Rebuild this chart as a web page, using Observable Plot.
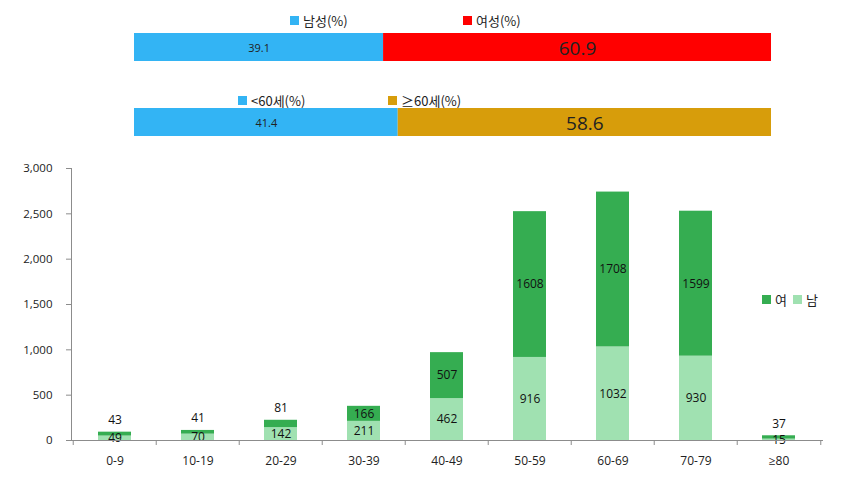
<!DOCTYPE html>
<html>
<head>
<meta charset="utf-8">
<script src="https://cdn.jsdelivr.net/npm/d3@7"></script>
<script src="https://cdn.jsdelivr.net/npm/@observablehq/plot@0.6"></script>
<style>
  html, body { margin: 0; padding: 0; background: #fff; }
  #root { position: relative; width: 853px; height: 493px; overflow: hidden; font-family: "Noto Sans CJK KR", "Open Sans", sans-serif; }
  .abs { position: absolute; }
  .leg { position: absolute; display: flex; align-items: center; font-size: 13px; color: #222; white-space: nowrap; }
  .sw { display: inline-block; width: 9px; height: 9px; margin-right: 4px; }
  .ge { font-family: "Open Sans", sans-serif; }
</style>
</head>
<body>
<div id="root">
  <div class="leg" style="left:290px; top:11px"><span class="sw" id="sw0"></span><span id="lg0"></span></div>
  <div class="leg" style="left:463px; top:11px"><span class="sw" id="sw1"></span><span id="lg1"></span></div>
  <div class="abs" id="bar1" style="left:0; top:33px"></div>
  <div class="leg" style="left:238px; top:91px"><span class="sw" id="sw2"></span><span id="lg2"></span></div>
  <div class="leg" style="left:388px; top:91px"><span class="sw" id="sw3"></span><span id="lg3"></span></div>
  <div class="abs" id="bar2" style="left:0; top:108px"></div>
  <div class="abs" id="main" style="left:0; top:150px"></div>
  <div class="leg" style="left:762px; top:290px; font-size:13px"><span class="sw" id="sw4"></span><span id="lg4" style="margin-right:6px"></span><span class="sw" id="sw5"></span><span id="lg5"></span></div>
</div>
<script>
// ---- data ----
const sexLabels = ["남성(%)", "여성(%)"];
const sexValues = [39.1, 60.9];
const ageGroupLabels = ["<60세(%)", "≥60세(%)"];
const ageGroupValues = [41.4, 58.6];

const ageBands = ["0-9", "10-19", "20-29", "30-39", "40-49", "50-59", "60-69", "70-79", "≥80"];
const maleCounts = [49, 70, 142, 211, 462, 916, 1032, 930, 15];
const femaleCounts = [43, 41, 81, 166, 507, 1608, 1708, 1599, 37];
const sexKeys = ["남", "여"];
const yTicks = [0, 500, 1000, 1500, 2000, 2500, 3000];

// ---- styles ----
const sexColors = ["#33B4F4", "#FF0000"];
const ageColors = ["#33B4F4", "#D79D0B"];
const greenLight = "#A0E1B1";
const greenDark = "#35AD51";
const axisGray = "#8c8c8c";
const numFont = "'Open Sans', 'DejaVu Sans', sans-serif";

// legends (HTML)
[["sw0","lg0",sexColors[0],sexLabels[0]],["sw1","lg1",sexColors[1],sexLabels[1]],
 ["sw2","lg2",ageColors[0],ageGroupLabels[0]],["sw3","lg3",ageColors[1],ageGroupLabels[1]],
 ["sw4","lg4",greenDark,"여"],["sw5","lg5",greenLight,"남"]].forEach(([s,l,c,t]) => {
  document.getElementById(s).style.background = c;
  document.getElementById(l).textContent = t;
});

function pctBar(labels, values, colors) {
  const rows = labels.map((k, i) => ({k, v: values[i], i}));
  return Plot.plot({
    width: 853, height: 28,
    marginLeft: 134, marginRight: 82, marginTop: 0, marginBottom: 0,
    x: {domain: [0, 100], axis: null},
    color: {domain: labels, range: colors},
    style: {background: "transparent"},
    marks: [
      Plot.barX(rows, Plot.stackX({x: "v", fill: "k"})),
      Plot.text(rows, Plot.stackX({
        x: "v", text: d => d.v.toFixed(1),
        fontSize: d => d.i === 0 ? 11 : 19,
        fill: "#222", fontFamily: numFont, dy: 1
      }))
    ]
  });
}
document.getElementById("bar1").append(pctBar(sexLabels, sexValues, sexColors));
document.getElementById("bar2").append(pctBar(ageGroupLabels, ageGroupValues, ageColors));

// ---- main stacked chart ----
const rows = [];
ageBands.forEach((a, i) => {
  rows.push({age: a, sex: sexKeys[0], value: maleCounts[i], total: maleCounts[i] + femaleCounts[i]});
  rows.push({age: a, sex: sexKeys[1], value: femaleCounts[i], total: maleCounts[i] + femaleCounts[i]});
});
const W = 853, mL = 71, mR = 30;
const step = (W - mL - mR) / ageBands.length;
const isSmallTop = d => d.sex === sexKeys[1] && d.value < 100;
const plain = d => String(d.value);

const main = Plot.plot({
  width: W, height: 343,
  marginLeft: mL, marginRight: mR, marginTop: 18, marginBottom: 53,
  x: {domain: ageBands, paddingInner: 0.6, paddingOuter: 0.3, axis: null, label: null},
  y: {domain: [0, 3000], axis: null, label: null},
  color: {domain: sexKeys, range: [greenLight, greenDark]},
  style: {background: "transparent", fontFamily: numFont},
  marks: [
    Plot.barY(rows, Plot.stackY({x: "age", y: "value", fill: "sex"})),
    Plot.text(rows, Plot.stackY({
      x: "age", y: "value", text: plain, filter: d => !isSmallTop(d),
      fontSize: 12, fill: "#111"
    })),
    Plot.text(rows.filter(isSmallTop), {
      x: "age", y: "total", text: plain, dy: -12, fontSize: 12, fill: "#111"
    }),
    Plot.frame({anchor: "left", stroke: axisGray}),
    Plot.ruleY([0], {stroke: axisGray}),
    Plot.axisY({ticks: yTicks, tickFormat: d3.format(","), tickSize: 5, tickPadding: 14, fontSize: 11.5, stroke: axisGray, color: "#222", label: null}),
    Plot.axisX({tickSize: 5, dx: -step / 2, tickFormat: () => "", stroke: axisGray, label: null}),
    Plot.axisX({ticks: ageBands.slice(-1), tickSize: 5, dx: step / 2, tickFormat: () => "", stroke: axisGray, label: null}),
    Plot.axisX({tickSize: 0, tickPadding: 16, fontSize: 12, color: "#222", label: null})
  ]
});
document.getElementById("main").append(main);
</script>
</body>
</html>
